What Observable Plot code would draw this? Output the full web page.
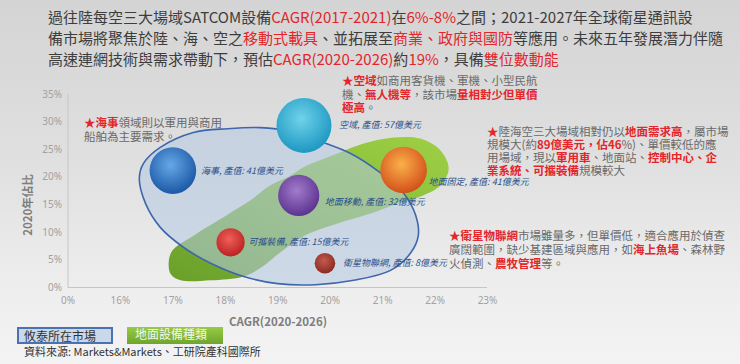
<!DOCTYPE html>
<html lang="zh-Hant-TW">
<head>
<meta charset="utf-8">
<script src="https://cdn.jsdelivr.net/npm/d3@7"></script>
<script src="https://cdn.jsdelivr.net/npm/@observablehq/plot@0.6"></script>
<style>
html,body{margin:0;padding:0;}
body{width:740px;height:364px;overflow:hidden;position:relative;
  background:linear-gradient(180deg,#d4d4d4 0%,#e0e0e0 45%,#eeeeee 80%,#f3f3f3 100%);
  font-family:"Noto Sans CJK TC","Noto Sans",sans-serif;}
.abs{position:absolute;white-space:nowrap;}
.r{color:#e3262b;}
#title{left:48px;top:6px;font-size:15px;line-height:21px;color:#3d3d3d;}
.note{font-size:11.5px;line-height:14px;color:#6a6a6a;}
.note .r{font-weight:bold;}
#chart{position:absolute;left:0;top:80px;}
.axt{font-size:11.5px;font-weight:bold;color:#7e7e7e;}
.leg{position:absolute;box-sizing:border-box;font-size:12px;line-height:14px;padding-left:5px;white-space:nowrap;}
</style>
</head>
<body>
<div id="title" class="abs">過往陸每空三大場域SATCOM設備<span class="r">CAGR(2017-2021)</span>在<span class="r">6%-8%</span>之間；2021-2027年全球衛星通訊設<br>備市場將聚焦於陸、海、空之<span class="r">移動式載具</span>、並拓展至<span class="r">商業、政府與國防</span>等應用。未來五年發展潛力伴隨<br>高速連網技術與需求帶動下，預估<span class="r">CAGR(2020-2026)</span>約<span class="r">19%</span>，具備<span class="r">雙位數動能</span></div>

<div id="chart"></div>

<div class="abs note" style="left:84px;top:115px;"><span class="r">★海事</span>領域則以軍用與商用<br>船舶為主要需求。</div>
<div class="abs note" style="left:342px;top:74px;line-height:13.5px;"><span class="r">★空域</span>如商用客貨機、軍機、小型民航<br>機、<span class="r">無人機等</span>，該市場<span class="r">量相對少但單價</span><br><span class="r">極高</span>。</div>
<div class="abs note" style="left:487px;top:124.5px;line-height:13px;"><span class="r">★</span>陸海空三大場域相對仍以<span class="r">地面需求高</span>，屬市場<br>規模大(約<span class="r">89億美元，佔46</span>%)、單價較低的應<br>用場域，現以<span class="r">軍用車</span>、地面站、<span class="r">控制中心、企</span><br><span class="r">業系統、可攜裝備</span>規模較大</div>
<div class="abs note" style="left:449px;top:228px;"><span class="r">★衛星物聯網</span>市場雖量多，但單價低，適合應用於偵查<br>廣闊範圍，缺少基建區域與應用，如<span class="r">海上魚場</span>、森林野<br>火偵測、<span class="r">農牧管理</span>等。</div>

<div class="abs axt" style="left:278px;top:313px;transform:translateX(-50%);">CAGR(2020-2026)</div>
<div class="abs axt" style="left:27px;top:205px;transform:translate(-50%,-50%) rotate(-90deg);">2020年佔比</div>

<div class="leg" style="left:17px;top:327px;width:96px;height:17px;background:#c9d8eb;border:2px solid #4a72b2;color:#333;">攸泰所在市場</div>
<div class="leg" style="left:127px;top:327px;width:96px;height:17px;background:linear-gradient(180deg,#96cb45,#6fa52d);color:#f4f9ec;padding-left:8px;">地面設備種類</div>
<div class="abs" style="left:24px;top:344px;font-size:11px;line-height:15px;color:#333;">資料來源: Markets&amp;Markets、工研院產科國際所</div>

<script>
// ---- data ----
const segments = ["海事", "空域", "地面固定", "地面移動", "可攜裝備", "衛星物聯網"];
const cagr = [17.0, 19.5, 21.4, 19.4, 18.1, 19.9];          // CAGR(2020-2026), %
const share2020 = [21.2, 29.4, 21.3, 16.7, 8.2, 4.4];       // 2020年佔比, %
const output = [41, 57, 41, 32, 15, 8];                      // 產值, 億美元
const labels = ["海事, 產值: 41億美元", "空域, 產值: 57億美元", "地面固定, 產值: 41億美元",
                "地面移動, 產值: 32億美元", "可攜裝備, 產值: 15億美元", "衛星物聯網, 產值: 8億美元"];

const xTickValues = [15, 16, 17, 18, 19, 20, 21, 22, 23];
const xTickLabels = ["0%", "16%", "17%", "18%", "19%", "20%", "21%", "22%", "23%"];
const yTickValues = [0, 5, 10, 15, 20, 25, 30, 35];
const yTickLabels = ["0%", "5%", "10%", "15%", "20%", "25%", "30%", "35%"];

// outline of the "攸泰所在市場" ellipse (CAGR %, share %)
const ellipseX = [16.36,16.44,16.76,17.39,18.04,18.67,19.24,19.87,20.39,20.90,21.40,21.63,21.68,21.53,21.15,20.45,19.72,19.00,18.35,17.72,17.20,16.76,16.48];
const ellipseY = [19.8,22.5,25.4,28.1,28.8,29.0,28.3,26.3,24.3,21.2,17.1,13.1,9.4,6.2,3.1,1.3,0.5,0.7,2.0,4.4,7.3,10.9,15.2];
// outline of the "地面設備種類" region
const blobX = [16.92,16.99,17.39,18.04,18.48,18.80,19.24,19.49,20.14,20.64,21.21,21.72,22.10,22.26,22.10,21.67,21.28,20.77,20.14,19.49,19.05,18.71,18.35,17.72,17.15,16.96];
const blobY = [4.5,6.7,9.4,13.2,15.8,18.2,20.3,21.8,24.3,26.1,27.2,27.0,24.9,21.6,18.5,16.3,15.2,13.4,11.6,9.3,6.4,3.8,2.0,1.3,1.3,2.4];

// ---- styles ----
const bubbleColors = {
  "海事": ["#66a8e6", "#1c58a6"],
  "空域": ["#6fd2ea", "#1e98c2"],
  "地面固定": ["#fbb04a", "#d2501a"],
  "地面移動": ["#a27ccc", "#5c3290"],
  "可攜裝備": ["#f0605a", "#bc2222"],
  "衛星物聯網": ["#c45a4e", "#8a2a22"]
};
const labelOffset = {
  "海事": [28, 1], "空域": [35, 0], "地面固定": [25, 12],
  "地面移動": [26, 7], "可攜裝備": [18, 0], "衛星物聯網": [18, 0]
};

const bubbles = segments.map((s, i) => ({
  seg: s, x: cagr[i], y: share2020[i], v: output[i], label: labels[i], grad: `url(#bg${i})`
}));
const ellipse = ellipseX.map((x, i) => ({x, y: ellipseY[i]}));
const blob = blobX.map((x, i) => ({x, y: blobY[i]}));

const labelMarks = bubbles.map(d => Plot.text([d], {
  x: "x", y: "y", text: "label", textAnchor: "start",
  dx: labelOffset[d.seg][0], dy: labelOffset[d.seg][1],
  fill: "#2b4f8a", fontSize: 9, fontStyle: "italic",
  fontFamily: "'Noto Sans CJK TC', sans-serif"
}));

const chart = Plot.plot({
  width: 740, height: 250,
  marginTop: 14, marginBottom: 43, marginLeft: 67.5, marginRight: 253,
  style: {background: "transparent", color: "#a2a2a2", fontSize: "10px",
          fontFamily: "'Noto Sans', sans-serif", overflow: "visible"},
  x: {domain: [15, 23], ticks: xTickValues, tickFormat: (d) => xTickLabels[xTickValues.indexOf(d)],
      tickSize: 0, tickPadding: 9, label: null},
  y: {domain: [0, 35], ticks: yTickValues, tickFormat: (d) => yTickLabels[yTickValues.indexOf(d)],
      tickSize: 0, tickPadding: 6, label: null},
  r: {type: "sqrt", domain: [0, 57], range: [0, 27.5]},
  color: {type: "identity"},
  marks: [
    Plot.ruleX([15], {stroke: "#c6c6c6", strokeWidth: 1}),
    Plot.ruleY([0], {stroke: "#c6c6c6", strokeWidth: 1}),
    Plot.line(blob, {x: "x", y: "y", curve: "catmull-rom-closed", fill: "url(#blobGrad)", stroke: "none"}),
    Plot.line(ellipse, {x: "x", y: "y", curve: "catmull-rom-closed", fill: "#b4c9e4", fillOpacity: 0.55,
                        stroke: "#3e66ab", strokeWidth: 1.6}),
    Plot.dot(bubbles, {x: "x", y: "y", r: "v", fill: "grad", stroke: "none"}),
    ...labelMarks
  ]
});

// gradients
const defs = d3.create("svg:defs");
const bg = defs.append("linearGradient").attr("id", "blobGrad")
  .attr("x1", 0).attr("y1", 1).attr("x2", 1).attr("y2", 0);
bg.append("stop").attr("offset", "0%").attr("stop-color", "#6a9f2a");
bg.append("stop").attr("offset", "55%").attr("stop-color", "#86bd3a");
bg.append("stop").attr("offset", "100%").attr("stop-color", "#9fd045");
segments.forEach((s, i) => {
  const g = defs.append("radialGradient").attr("id", `bg${i}`)
    .attr("cx", "45%").attr("cy", "38%").attr("r", "62%");
  g.append("stop").attr("offset", "0%").attr("stop-color", bubbleColors[s][0]);
  g.append("stop").attr("offset", "100%").attr("stop-color", bubbleColors[s][1]);
});
chart.insertBefore(defs.node(), chart.firstChild);

document.getElementById("chart").appendChild(chart);
</script>
</body>
</html>
